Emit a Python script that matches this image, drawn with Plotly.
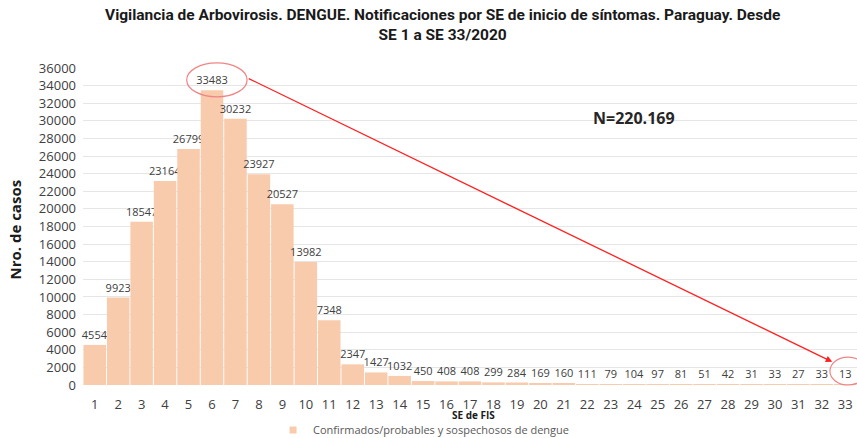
import plotly.graph_objects as go

# semanas epidemiologicas (SE de FIS) y casos notificados
semanas = [str(i) for i in range(1, 34)]
casos = [4554, 9923, 18547, 23164, 26799, 33483, 30232, 23927, 20527, 13982,
         7348, 2347, 1427, 1032, 450, 408, 408, 299, 284, 169,
         160, 111, 79, 104, 97, 81, 51, 42, 31, 33,
         27, 33, 13]
serie = 'Confirmados/probables y sospechosos de dengue'
total = 'N=220.169'
titulo = ['Vigilancia de Arbovirosis. DENGUE. Notificaciones por SE de inicio de síntomas. Paraguay. Desde',
          'SE 1 a SE 33/2020']
color_barra = '#F8CBAD'

fig = go.Figure(go.Bar(
    x=semanas, y=casos, name=serie,
    marker_color=color_barra, marker_line_width=0,
    text=[str(v) for v in casos], textposition='outside', constraintext='none',
    textfont=dict(size=11, color='#404040'), cliponaxis=False,
    showlegend=False,
))
# legend entry with a small square, like the original
fig.add_trace(go.Scatter(x=[None], y=[None], mode='markers', name=serie,
                         marker=dict(symbol='square', size=7, color=color_barra)))

fig.update_layout(
    width=857, height=438,
    margin=dict(l=83, r=0, t=68, b=53, autoexpand=False),
    plot_bgcolor='white', paper_bgcolor='white',
    font=dict(family='Open Sans, sans-serif', color='#595959'),
    bargap=0.04,
    xaxis=dict(showgrid=False, showline=False, ticks='outside', ticklen=7, tickcolor='rgba(0,0,0,0)',
               tickfont=dict(size=13, color='#404040'), automargin=False),
    yaxis=dict(range=[0, 36000], dtick=2000, tickformat='d', gridcolor='#E6E6E6', zeroline=False,
               tickfont=dict(size=13, color='#404040'), ticklabelstandoff=6, automargin=False),
    legend=dict(orientation='h', x=0.44, xanchor='center', y=-0.142, yanchor='middle',
                font=dict(size=11, color='#595959'), itemwidth=30),
    annotations=[
        dict(text='<b>' + titulo[0] + '<br>' + titulo[1] + '</b>', xref='paper', yref='paper',
             x=0.464, y=1.0 + 64 / 317, xanchor='center', yanchor='top', showarrow=False,
             font=dict(family='Roboto, sans-serif', size=15.5, color='#1a1a1a')),
        dict(text='<b>Nro. de casos</b>', xref='paper', yref='paper', x=-0.088, y=0.49,
             xanchor='center', yanchor='middle',
             textangle=-90, showarrow=False, font=dict(size=15, color='#1a1a1a')),
        dict(text='<b>SE de FIS</b>', xref='paper', yref='paper', x=0.505, y=-0.095,
             xanchor='center', yanchor='middle',
             showarrow=False, font=dict(size=10, color='#1a1a1a')),
        dict(text='<b>' + total + '</b>', xref='paper', yref='paper', x=0.712, y=0.842,
             xanchor='center', yanchor='middle',
             showarrow=False, font=dict(size=16, color='#262626')),
        dict(text='', xref='paper', yref='paper', x=0.968, y=0.073,
             axref='pixel', ayref='pixel', ax=-585, ay=-284,
             showarrow=True, arrowhead=2, arrowsize=1, arrowwidth=1.3, arrowcolor='#FF2020'),
    ],
    shapes=[
        dict(type='circle', xref='paper', yref='paper', x0=0.134, x1=0.212, y0=0.909, y1=1.016,
             line=dict(color='#F08585', width=1.2)),
        dict(type='circle', xref='paper', yref='paper', x0=0.965, x1=1.012, y0=0.0, y1=0.088,
             line=dict(color='#F08585', width=1.2)),
    ],
)

fig.write_html('out.html', config={'displayModeBar': False},
               post_script="document.body.style.margin='0';")
